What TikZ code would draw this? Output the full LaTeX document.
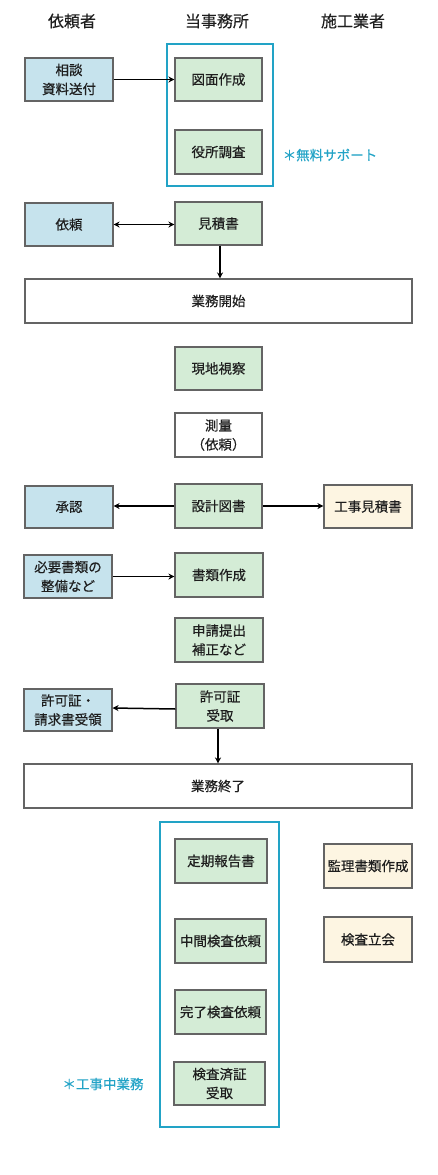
\documentclass[tikz,border=0pt]{standalone}
\usepackage{fontspec}
\setmainfont{Noto Sans CJK JP}[FakeBold=0.4]
\usetikzlibrary{arrows.meta}
\definecolor{bfill}{RGB}{198,227,237}
\definecolor{gfill}{RGB}{212,236,214}
\definecolor{yfill}{RGB}{253,245,226}
\definecolor{edge}{RGB}{100,100,100}
\definecolor{cyanl}{RGB}{34,163,198}
\definecolor{txt}{RGB}{30,30,30}
\tikzset{
  base/.style={draw=edge, line width=1.1pt, text=txt, align=center,
    font=\fontsize{13.5}{19}\selectfont, inner sep=0pt,
    minimum width=88pt, minimum height=43pt},
  bbox/.style={base, fill=bfill},
  gbox/.style={base, fill=gfill},
  ybox/.style={base, fill=yfill},
  wbox/.style={base, fill=white},
  head/.style={text=txt, font=\fontsize{16}{18}\selectfont},
  note/.style={text=cyanl, font=\fontsize{13.5}{16}\selectfont},
  frame/.style={draw=cyanl, line width=1.4pt},
  arr/.style={line width=1.5pt, -{Stealth[length=6pt,width=6pt]}},
  darr/.style={line width=1.5pt, {Stealth[length=6pt,width=6pt]}-{Stealth[length=6pt,width=6pt]}}
}
\begin{document}
\begin{tikzpicture}[x=1pt,y=-1pt]
\useasboundingbox (0,0) rectangle (438,1175);
% headers
\node[head] (h1) at (72,21) {依頼者};
\node[head] (h2) at (217,21) {当事務所};
\node[head] (h3) at (353,21) {施工業者};
% support frame
\draw[frame] (167,44) rectangle (273,186);
\node[note] (n1) at (330,155) {＊無料サポート};
\node[bbox] (soudan) at (69,79.5) {相談\\資料送付};
\node[gbox, minimum width=87pt] (zumen) at (218.5,79.5) {図面作成};
\node[gbox, minimum width=87pt, minimum height=44pt] (yakusho) at (218.5,152) {役所調査};
\node[bbox] (irai) at (69,224.5) {依頼};
\node[gbox, minimum width=87pt] (mitsu) at (218.5,223.5) {見積書};
\node[wbox, minimum width=387pt, minimum height=44pt] (start) at (218.5,301) {業務開始};
\node[gbox, minimum width=87pt] (genchi) at (218.5,368.5) {現地視察};
\node[wbox, minimum width=87pt, minimum height=44pt] (sokuryo) at (218.5,435) {測量\\（依頼）};
\node[bbox, minimum height=42pt] (shonin) at (69,507) {承認};
\node[gbox, minimum width=87pt, minimum height=44pt] (sekkei) at (218.5,506) {設計図書};
\node[ybox] (koji) at (368,506.5) {工事見積書};
\node[bbox] (hitsuyo) at (68,576.5) {必要書類の\\整備など};
\node[gbox, minimum height=44pt] (shorui) at (219,575) {書類作成};
\node[gbox, minimum height=44pt] (shinsei) at (219,640) {申請提出\\補正など};
\node[bbox, minimum height=42pt] (ryoryo) at (68,710) {許可証・\\請求書受領};
\node[gbox, minimum height=44pt] (kyoka) at (220,706) {許可証\\受取};
\node[wbox, minimum width=388pt, minimum height=44pt] (end) at (218,786) {業務終了};
% construction frame
\draw[frame] (160,822) rectangle (279,1127);
\node[note] (n2) at (103,1084) {＊工事中業務};
\node[gbox, minimum width=92pt, minimum height=44pt] (teiki) at (221,861) {定期報告書};
\node[gbox, minimum width=91pt, minimum height=44pt] (chukan) at (220.5,941) {中間検査依頼};
\node[gbox, minimum width=91pt, minimum height=44pt] (kanryo) at (220.5,1012) {完了検査依頼};
\node[gbox, minimum width=91pt, minimum height=43pt] (kensa) at (219.5,1083.5) {検査済証\\受取};
\node[ybox, minimum height=44pt] (kanri) at (368,866) {監理書類作成};
\node[ybox, minimum height=45pt] (tachiai) at (368,939.5) {検査立会};
% connectors
\draw[arr] (soudan.east) -- (zumen.west);
\draw[darr] (irai.east) -- (irai.east -| mitsu.west);
\draw[arr] ([xshift=1.5pt]mitsu.south) -- ([xshift=1.5pt]mitsu.south |- start.north);
\draw[arr] (sekkei.west) -- (sekkei.west -| shonin.east);
\draw[arr] (sekkei.east) -- (sekkei.east -| koji.west);
\draw[arr] (hitsuyo.east) -- (hitsuyo.east -| shorui.west);
\draw[arr] ([yshift=-3pt]kyoka.west) -- ([yshift=2pt]ryoryo.east);
\draw[arr] ([xshift=-2pt]kyoka.south) -- ([xshift=-2pt]kyoka.south |- end.north);
\end{tikzpicture}
\end{document}
